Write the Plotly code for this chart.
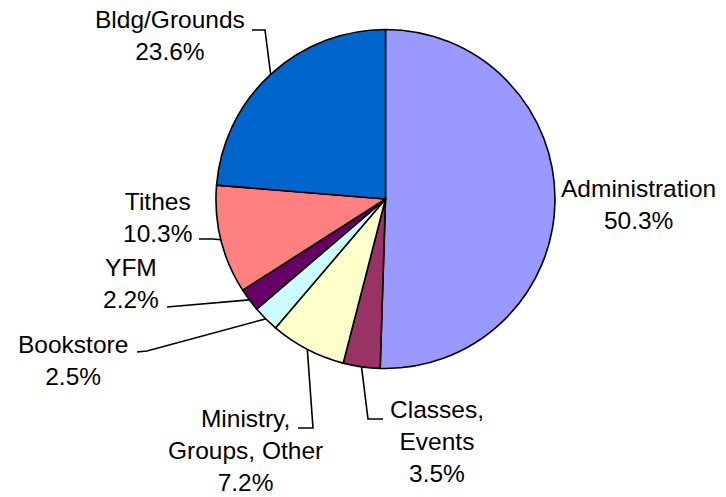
import math
import plotly.graph_objects as go

# ---- data ----
categories = ["Administration", "Classes, Events", "Ministry, Groups, Other",
              "Bookstore", "YFM", "Tithes", "Bldg/Grounds"]
label_texts = ["Administration", "Classes,<br>Events", "Ministry,<br>Groups, Other",
               "Bookstore", "YFM", "Tithes", "Bldg/Grounds"]
shares = [50.3, 3.5, 7.2, 2.5, 2.2, 10.3, 23.6]
colors = ["#9999FF", "#993366", "#FFFFCC", "#CCFFFF", "#660066", "#FF8080", "#0066CC"]

# ---- layout geometry (pixels) ----
W, H = 726, 497
CX, CY, R = 385.5, 199.0, 169.5
FONT = dict(family="Liberation Sans, Arial, sans-serif", size=24.5, color="black")

# label block centres and leader-line start/elbow points (pixels)
label_pos = {
    "Administration": (638, 205),
    "Classes, Events": (437, 441),
    "Ministry, Groups, Other": (245, 450),
    "Bookstore": (73, 360),
    "YFM": (131, 283),
    "Tithes": (157, 217),
    "Bldg/Grounds": (170, 35),
}
leader_pts = {
    "Classes, Events": [(383, 419), (368, 419)],
    "Ministry, Groups, Other": [(298, 428), (313, 428)],
    "Bookstore": [(137, 352), (147, 351)],
    "YFM": [(167, 307)],
    "Tithes": [(199, 239), (213, 239)],
    "Bldg/Grounds": [(252, 30), (265, 30)],
}


def px(x):
    return x / W


def py(y):
    return 1 - y / H


fig = go.Figure()
fig.add_trace(go.Pie(
    labels=categories,
    values=shares,
    sort=False,
    direction="clockwise",
    rotation=0,
    marker=dict(colors=colors, line=dict(color="black", width=1.6)),
    textinfo="none",
    hoverinfo="label+percent",
    showlegend=False,
    domain=dict(x=[px(CX - R), px(CX + R)], y=[py(CY + R), py(CY - R)]),
))

total = sum(shares)
annotations = []
shapes = []
cum = 0.0
for name, txt, v in zip(categories, label_texts, shares):
    mid = (cum + v / 2) / total * 360.0
    cum += v
    lx, ly = label_pos[name]
    annotations.append(dict(
        x=px(lx), y=py(ly), xref="paper", yref="paper",
        xanchor="center", yanchor="middle",
        text=f"{txt}<br>{v:.1f}%", showarrow=False, font=FONT, align="center",
        borderpad=0,
    ))
    if name in leader_pts:
        ax = CX + R * math.sin(math.radians(mid))
        ay = CY - R * math.cos(math.radians(mid))
        pts = leader_pts[name] + [(ax, ay)]
        path = "M " + " L ".join(f"{px(x):.5f},{py(y):.5f}" for x, y in pts)
        shapes.append(dict(type="path", path=path, xref="paper", yref="paper",
                           line=dict(color="black", width=1.6)))

fig.update_layout(
    width=W, height=H,
    margin=dict(l=0, r=0, t=0, b=0),
    paper_bgcolor="white", plot_bgcolor="white",
    annotations=annotations, shapes=shapes,
)

fig.write_html(
    "out.html",
    config={"displayModeBar": False},
    post_script="document.body.style.margin='0';document.body.style.overflow='hidden';",
)
